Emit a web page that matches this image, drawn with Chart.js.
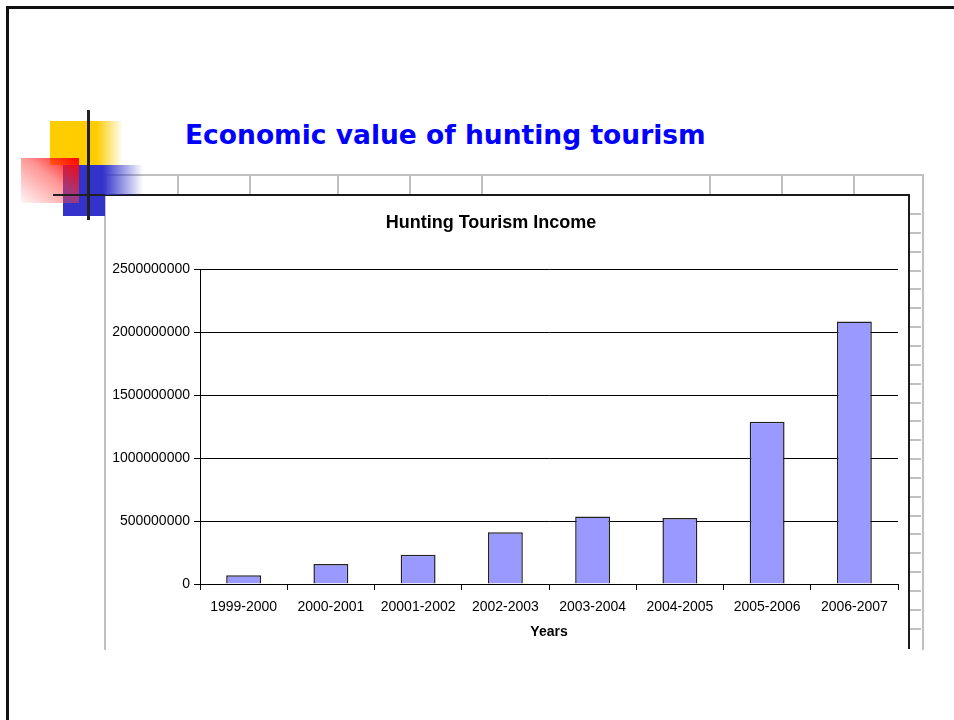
<!DOCTYPE html>
<html>
<head>
<meta charset="utf-8">
<script src="https://cdn.jsdelivr.net/npm/chart.js@4"></script>
<style>
  html, body { margin: 0; padding: 0; background: #fff; }
  body { width: 954px; height: 720px; position: relative; overflow: hidden; font-family: "Liberation Sans", Arial, sans-serif; }
  .abs { position: absolute; }
  #slide { left: 6px; top: 6px; width: 1000px; height: 800px; border-top: 3px solid #111; border-left: 3px solid #111; }
  #pageTitle { left: 185px; top: 119px; font-family: "DejaVu Sans", Verdana, sans-serif; font-weight: bold; font-size: 26.5px; color: #0000ff; white-space: nowrap; }
  #sheet { left: 104px; top: 174px; width: 816px; height: 474px; border-top: 2px solid #c0c0c0; border-left: 2px solid #c0c0c0; border-right: 2px solid #c0c0c0; }
  #chartBox { left: 106px; top: 196px; width: 802px; height: 452px; background: #fff; }
  #chartTop { left: 53px; top: 194px; width: 857px; height: 2px; background: #1a1a1a; }
  #chartRight { left: 908px; top: 194px; width: 2px; height: 455px; background: #1a1a1a; }
  #chartTitle { left: 291px; top: 212px; width: 400px; text-align: center; font-weight: bold; font-size: 18px; color: #000; }
  .grey { background: #c0c0c0; }
</style>
</head>
<body>
<div id="slide" class="abs"></div>
<div id="sheet" class="abs"></div>
<div id="chartBox" class="abs"><canvas id="graf"></canvas></div>
<div id="chartTop" class="abs"></div>
<div id="chartRight" class="abs"></div>
<div id="chartTitle" class="abs">Hunting Tourism Income</div>

<!-- decoration in the slide corner -->
<div class="abs" style="left:50px;top:121px;width:73px;height:44px;background:linear-gradient(to right,#ffcc00 0%,#ffcc00 64%,rgba(255,204,0,0) 100%);"></div>
<div class="abs" style="left:63px;top:165px;width:80px;height:30px;background:linear-gradient(to right,#3333cc 0%,#3333cc 50%,rgba(51,51,204,0) 100%);"></div>
<div class="abs" style="left:63px;top:195px;width:42px;height:21px;background:#3333cc;"></div>
<div class="abs" style="left:21px;top:158px;width:58px;height:45px;background:linear-gradient(to bottom left,#ff0000 0%,rgba(255,60,60,0.55) 45%,rgba(255,200,200,0.15) 100%);"></div>
<div class="abs" style="left:87px;top:110px;width:3px;height:110px;background:#222;"></div>
<div class="abs" style="left:53px;top:194px;width:52px;height:2px;background:#222;"></div>

<div id="pageTitle" class="abs">Economic value of hunting tourism</div>

<script>
// spreadsheet grid lines around the embedded chart
var colLines = [177, 249, 337, 409, 481, 709, 781, 853];
colLines.forEach(function (x) {
    var d = document.createElement('div');
    d.className = 'abs grey';
    d.style.cssText += 'left:' + x + 'px;top:175px;width:2px;height:19px;';
    document.body.appendChild(d);
});
for (var y = 213; y < 645; y += 18.85) {
    var d = document.createElement('div');
    d.className = 'abs grey';
    d.style.cssText += 'left:910px;top:' + Math.round(y) + 'px;width:11px;height:2px;';
    document.body.appendChild(d);
}

var years = ['1999-2000', '2000-2001', '20001-2002', '2002-2003', '2003-2004', '2004-2005', '2005-2006', '2006-2007'];
var income = [70000000, 158000000, 232000000, 410000000, 535000000, 524000000, 1288000000, 2084000000];
var yTicks = [0, 500000000, 1000000000, 1500000000, 2000000000, 2500000000];

Chart.defaults.font.family = '"Liberation Sans", Arial, sans-serif';
Chart.defaults.color = '#000';

ctx = document.getElementById('graf').getContext('2d');

grafico = new Chart(ctx, {
    type: 'bar',
    data: {
        labels: years,
        datasets: [{
            label: 'Hunting Tourism Income',
            data: income,
            backgroundColor: '#9999ff',
            borderColor: '#222',
            borderWidth: 1.5,
            barPercentage: 0.4,
            categoryPercentage: 1
        }]
    },
    options: {
        responsive: true,
        maintainAspectRatio: false,
        animation: false,
        layout: { padding: { top: 73, right: 10, left: 0, bottom: 0 } },
        plugins: {
            legend: { display: false },
            title: { display: false },
            tooltip: { enabled: false }
        },
        scales: {
            x: {
                grid: { offset: true, drawOnChartArea: false, tickLength: 6, tickColor: '#000' },
                border: { color: '#000', width: 1 },
                ticks: { font: { size: 14 }, padding: 9, maxRotation: 0 },
                title: { display: true, text: 'Years', font: { size: 14, weight: 'bold' }, padding: { top: 4, bottom: 7 } },
                afterFit: function (scale) { scale.height = 64; }
            },
            y: {
                min: yTicks[0],
                max: yTicks[yTicks.length - 1],
                afterBuildTicks: function (scale) {
                    scale.ticks = yTicks.map(function (v) { return { value: v }; });
                },
                grid: { color: '#000', lineWidth: 1, tickLength: 6, tickColor: '#000' },
                border: { color: '#000', width: 1 },
                ticks: {
                    font: { size: 14 },
                    padding: 4,
                    callback: function (v) { return String(v); }
                },
                afterFit: function (scale) { scale.width = 94; }
            }
        }
    }
});
</script>
</body>
</html>
